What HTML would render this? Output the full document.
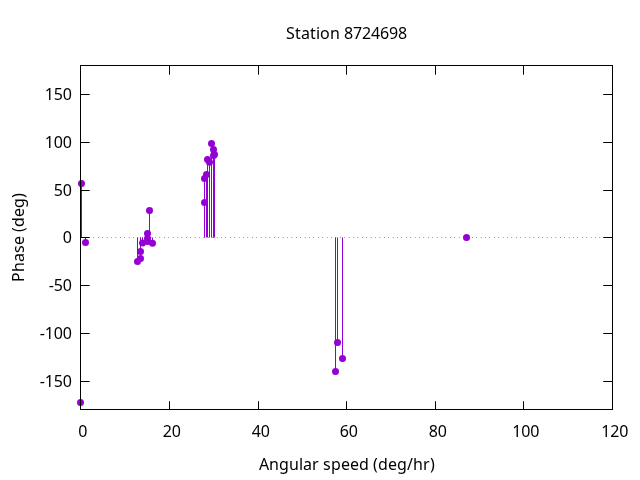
<!DOCTYPE html>
<html><head><meta charset="utf-8"><title>Station 8724698</title>
<style>
html,body{margin:0;padding:0;background:#fff;width:640px;height:480px;overflow:hidden}
svg{display:block;will-change:transform}
text{font-family:"Noto Sans","Open Sans","Liberation Sans",sans-serif;font-size:16px;fill:#000}
</style></head><body>
<svg width="640" height="480" viewBox="0 0 640 480">
<rect width="640" height="480" fill="#fff"/>
<line x1="80.5" y1="237.5" x2="612.5" y2="237.5" stroke="#000" stroke-width="1" stroke-dasharray="0.4 4"/>
<g stroke="#9400d3" stroke-width="1" fill="none">
<line x1="80.5" y1="237.5" x2="80.5" y2="402.5"/>
<line x1="81.5" y1="237.5" x2="81.5" y2="183.5"/>
<line x1="85.5" y1="237.5" x2="85.5" y2="242.4"/>
<line x1="137.5" y1="237.5" x2="137.5" y2="261.5"/>
<line x1="140.5" y1="237.5" x2="140.5" y2="258.5"/>
<line x1="140.5" y1="237.5" x2="140.5" y2="251.5"/>
<line x1="142.5" y1="237.5" x2="142.5" y2="243.0"/>
<line x1="147.5" y1="237.5" x2="147.5" y2="241.5"/>
<line x1="147.5" y1="237.5" x2="147.5" y2="238.5"/>
<line x1="147.5" y1="237.5" x2="147.5" y2="233.5"/>
<line x1="149.5" y1="237.5" x2="149.5" y2="210.5"/>
<line x1="152.5" y1="237.5" x2="152.5" y2="243.2"/>
<line x1="204.5" y1="237.5" x2="204.5" y2="202.5"/>
<line x1="204.5" y1="237.5" x2="204.5" y2="178.5"/>
<line x1="206.5" y1="237.5" x2="206.5" y2="174.5"/>
<line x1="207.5" y1="237.5" x2="207.5" y2="159.5"/>
<line x1="209.5" y1="237.5" x2="209.5" y2="162.2"/>
<line x1="211.5" y1="237.5" x2="211.5" y2="143.5"/>
<line x1="213.5" y1="237.5" x2="213.5" y2="149.5"/>
<line x1="214.5" y1="237.5" x2="214.5" y2="154.5"/>
<line x1="213.5" y1="237.5" x2="213.5" y2="155.5"/>
<line x1="335.5" y1="237.5" x2="335.5" y2="371.5"/>
<line x1="337.5" y1="237.5" x2="337.5" y2="342.5"/>
<line x1="342.5" y1="237.5" x2="342.5" y2="358.5"/>
<line x1="466.5" y1="237.5" x2="466.5" y2="237.5"/>
</g>
<g fill="#9400d3">
<circle cx="80.5" cy="402.5" r="3.5"/>
<circle cx="81.5" cy="183.5" r="3.5"/>
<circle cx="85.5" cy="242.4" r="3.5"/>
<circle cx="137.5" cy="261.5" r="3.5"/>
<circle cx="140.5" cy="258.5" r="3.5"/>
<circle cx="140.5" cy="251.5" r="3.5"/>
<circle cx="142.5" cy="243.0" r="3.5"/>
<circle cx="147.5" cy="241.5" r="3.5"/>
<circle cx="147.5" cy="238.5" r="3.5"/>
<circle cx="147.5" cy="233.5" r="3.5"/>
<circle cx="149.5" cy="210.5" r="3.5"/>
<circle cx="152.5" cy="243.2" r="3.5"/>
<circle cx="204.5" cy="202.5" r="3.5"/>
<circle cx="204.5" cy="178.5" r="3.5"/>
<circle cx="206.5" cy="174.5" r="3.5"/>
<circle cx="207.5" cy="159.5" r="3.5"/>
<circle cx="209.5" cy="162.2" r="3.5"/>
<circle cx="211.5" cy="143.5" r="3.5"/>
<circle cx="213.5" cy="149.5" r="3.5"/>
<circle cx="214.5" cy="154.5" r="3.5"/>
<circle cx="213.5" cy="155.5" r="3.5"/>
<circle cx="335.5" cy="371.5" r="3.5"/>
<circle cx="337.5" cy="342.5" r="3.5"/>
<circle cx="342.5" cy="358.5" r="3.5"/>
<circle cx="466.5" cy="237.5" r="3.5"/>
</g>
<g stroke="#000" stroke-width="1" fill="none">
<rect x="80.5" y="65.5" width="532" height="344"/>
<line x1="80.5" y1="94.5" x2="89.7" y2="94.5"/>
<line x1="612.5" y1="94.5" x2="603.2" y2="94.5"/>
<line x1="80.5" y1="142.5" x2="89.7" y2="142.5"/>
<line x1="612.5" y1="142.5" x2="603.2" y2="142.5"/>
<line x1="80.5" y1="190.5" x2="89.7" y2="190.5"/>
<line x1="612.5" y1="190.5" x2="603.2" y2="190.5"/>
<line x1="80.5" y1="237.5" x2="89.7" y2="237.5"/>
<line x1="612.5" y1="237.5" x2="603.2" y2="237.5"/>
<line x1="80.5" y1="285.5" x2="89.7" y2="285.5"/>
<line x1="612.5" y1="285.5" x2="603.2" y2="285.5"/>
<line x1="80.5" y1="333.5" x2="89.7" y2="333.5"/>
<line x1="612.5" y1="333.5" x2="603.2" y2="333.5"/>
<line x1="80.5" y1="381.5" x2="89.7" y2="381.5"/>
<line x1="612.5" y1="381.5" x2="603.2" y2="381.5"/>
<line x1="80.5" y1="409.5" x2="80.5" y2="401.2"/>
<line x1="80.5" y1="65.5" x2="80.5" y2="74.7"/>
<line x1="169.5" y1="409.5" x2="169.5" y2="401.2"/>
<line x1="169.5" y1="65.5" x2="169.5" y2="74.7"/>
<line x1="258.5" y1="409.5" x2="258.5" y2="401.2"/>
<line x1="258.5" y1="65.5" x2="258.5" y2="74.7"/>
<line x1="346.5" y1="409.5" x2="346.5" y2="401.2"/>
<line x1="346.5" y1="65.5" x2="346.5" y2="74.7"/>
<line x1="435.5" y1="409.5" x2="435.5" y2="401.2"/>
<line x1="435.5" y1="65.5" x2="435.5" y2="74.7"/>
<line x1="523.5" y1="409.5" x2="523.5" y2="401.2"/>
<line x1="523.5" y1="65.5" x2="523.5" y2="74.7"/>
<line x1="612.5" y1="409.5" x2="612.5" y2="401.2"/>
<line x1="612.5" y1="65.5" x2="612.5" y2="74.7"/>
</g>
<g>
<text x="44.7 53.7 62.7" y="100.4">150</text>
<text x="44.7 53.7 62.7" y="148.4">100</text>
<text x="53.7 62.7" y="196.4">50</text>
<text x="62.7" y="243.4">0</text>
<text x="48.7 53.7 62.7" y="291.4">-50</text>
<text x="39.7 44.7 53.7 62.7" y="339.4">-100</text>
<text x="39.7 44.7 53.7 62.7" y="387.4">-150</text>
<text x="78.15" y="437">0</text>
<text x="162.65 171.65" y="437">20</text>
<text x="251.65 260.65" y="437">40</text>
<text x="339.65 348.65" y="437">60</text>
<text x="428.65 437.65" y="437">80</text>
<text x="512.15 521.15 530.15" y="437">100</text>
<text x="601.15 610.15 619.15" y="437">120</text>
</g>
<text x="286 295 301 310 316 320 330 340 344 353 362 371 380 389 398" y="39">Station 8724698</text>
<text x="259 269 279 289 299 303 312 319 323 331 341 350 359 369 373 378 388 397 407 413 423 430" y="470">Angular speed (deg/hr)</text>
<text x="0 10 20 29 37 46 50 55 65 74 84" y="0" transform="translate(24 282) rotate(-90)">Phase (deg)</text>
</svg>
</body></html>
